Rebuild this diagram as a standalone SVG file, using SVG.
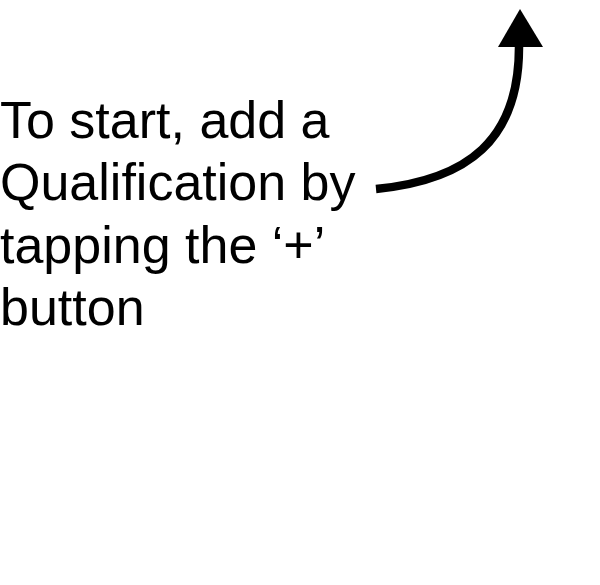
<svg xmlns="http://www.w3.org/2000/svg" width="600" height="585" viewBox="0 0 600 585">
<style>
.lbl{font-family:"Liberation Sans",Arial,sans-serif;font-size:52px;fill:#000}
.conn{fill:none;stroke:#000;stroke-width:8.5}
.head{fill:#000}
</style>
<rect width="600" height="585" fill="#fff"/>
<g id="note">
<text class="lbl" x="0" y="137.5">To start, add a</text>
<text class="lbl" x="0" y="200">Qualification by</text>
<text class="lbl" x="0" y="262.5">tapping the ‘+’</text>
<text class="lbl" x="0" y="325">button</text>
</g>
<g id="connectors">
<path class="conn" d="M376,189 C468,180 519,140 519,47"/>
<polygon class="head" points="520,9 543,47 498,47"/>
</g>
</svg>
